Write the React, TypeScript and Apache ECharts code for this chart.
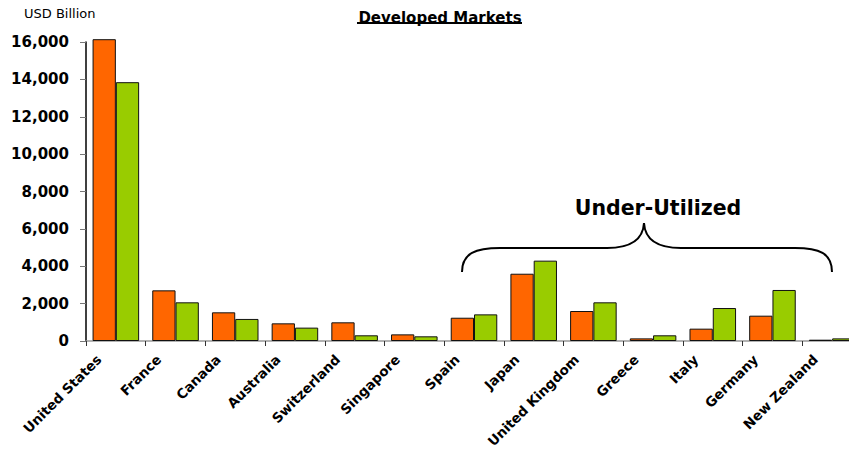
import React, { useEffect, useRef } from "react";
import * as echarts from "echarts";

const categories = [
  "United States", "France", "Canada", "Australia", "Switzerland", "Singapore",
  "Spain", "Japan", "United Kingdom", "Greece", "Italy", "Germany", "New Zealand",
];
const orangeValues = [16150, 2710, 1535, 945, 1000, 355, 1245, 3600, 1605, 140, 660, 1355, 70];
const greenValues = [13850, 2070, 1180, 715, 305, 250, 1425, 4300, 2070, 305, 1765, 2730, 140];
const yTicks = { min: 0, max: 16000, interval: 2000 };

const FONT = "DejaVu Sans";

export default function App() {
  const ref = useRef<HTMLDivElement>(null);
  useEffect(() => {
    if (!ref.current) return;
    const chart = echarts.init(ref.current, undefined, { renderer: "svg" });
    const barStyle = (color: string) => ({
      color,
      borderColor: "#111",
      borderWidth: 1,
    });
    chart.setOption({
      animation: false,
      backgroundColor: "#fff",
      title: {
        text: "Developed Markets",
        left: 435,
        top: 5,
        textAlign: "center",
        textStyle: {
          fontFamily: FONT,
          fontSize: 15,
          fontWeight: "bold",
          color: "#000",
        },
      },
      grid: {
        left: 86,
        right: -13,
        top: 42,
        bottom: 108,
        containLabel: false,
        outerBoundsMode: "none",
      } as any,
      xAxis: {
        type: "category",
        data: categories,
        axisLine: { show: true, lineStyle: { color: "#999", width: 1.5 } },
        axisTick: { show: true, length: 5, lineStyle: { color: "#333" } },
        axisLabel: {
          interval: 0,
          rotate: 45,
          margin: -1,
          padding: [0, 24, 0, 0],
          fontFamily: FONT,
          fontSize: 13.5,
          fontWeight: "bold",
          color: "#000",
        },
      },
      yAxis: {
        type: "value",
        min: yTicks.min,
        max: yTicks.max,
        interval: yTicks.interval,
        axisLine: { show: true, lineStyle: { color: "#000", width: 1.5 } },
        axisTick: { show: true, length: 6, lineStyle: { color: "#777" } },
        splitLine: { show: false },
        axisLabel: {
          margin: 17,
          fontFamily: FONT,
          fontSize: 15,
          fontWeight: "bold",
          color: "#000",
          formatter: (v: number) => v.toLocaleString("en-US"),
        },
      },
      series: [
        {
          name: "Orange",
          type: "bar",
          data: orangeValues,
          itemStyle: barStyle("#FF6600"),
          barGap: "0%",
          barCategoryGap: "22%",
          clip: false,
        },
        {
          name: "Green",
          type: "bar",
          data: greenValues,
          itemStyle: barStyle("#99CC00"),
          barGap: "0%",
          barCategoryGap: "22%",
          clip: false,
        },
      ],
      graphic: [
        {
          type: "line",
          shape: { x1: 357, y1: 23, x2: 522, y2: 23 },
          style: { stroke: "#000", lineWidth: 2 },
        },
        {
          type: "text",
          left: 24,
          top: 7,
          style: { text: "USD Billion", fontFamily: FONT, fontSize: 13, fill: "#000" },
        },
        {
          type: "text",
          x: 658,
          y: 208,
          style: {
            text: "Under-Utilized",
            fontFamily: FONT,
            fontSize: 20.5,
            fontWeight: "bold",
            fill: "#000",
            align: "center",
            verticalAlign: "middle",
          },
        },
        {
          type: "group",
          children: [
            { type: "bezierCurve", shape: { x1: 462, y1: 272, cpx1: 462, cpy1: 253, cpx2: 476, cpy2: 248, x2: 500, y2: 248 } },
            { type: "line", shape: { x1: 500, y1: 248, x2: 607, y2: 248 } },
            { type: "bezierCurve", shape: { x1: 607, y1: 248, cpx1: 630, cpy1: 248, cpx2: 643, cpy2: 240, x2: 644, y2: 223 } },
            { type: "bezierCurve", shape: { x1: 644, y1: 223, cpx1: 645, cpy1: 240, cpx2: 658, cpy2: 248, x2: 681, y2: 248 } },
            { type: "line", shape: { x1: 681, y1: 248, x2: 795, y2: 248 } },
            { type: "bezierCurve", shape: { x1: 795, y1: 248, cpx1: 819, cpy1: 248, cpx2: 832, cpy2: 253, x2: 832, y2: 272 } },
          ].map((c: any) => ({ ...c, style: { stroke: "#000", lineWidth: 2, fill: null } })),
        },
      ],
    });
    return () => chart.dispose();
  }, []);
  return (
    <div
      ref={ref}
      style={{ position: "fixed", left: 0, top: 0, width: 849, height: 449, overflow: "hidden" }}
    />
  );
}
